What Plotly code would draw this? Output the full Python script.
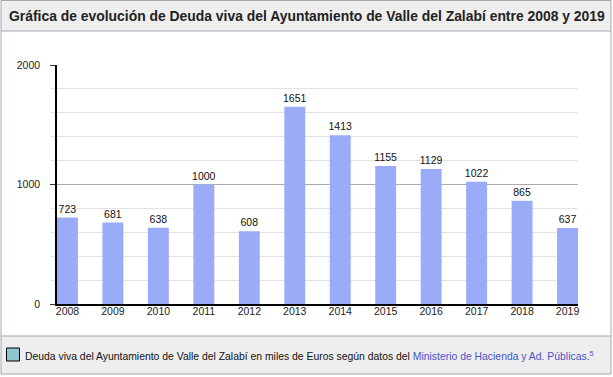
import plotly.graph_objects as go

years = ["2008", "2009", "2010", "2011", "2012", "2013", "2014", "2015", "2016", "2017", "2018", "2019"]
deuda = [723, 681, 638, 1000, 608, 1651, 1413, 1155, 1129, 1022, 865, 637]

title_text = "Gráfica de evolución de Deuda viva del Ayuntamiento de Valle del Zalabí entre 2008 y 2019"
legend_text = "Deuda viva del Ayuntamiento de Valle del Zalabí en miles de Euros según datos del "
link_text = "Ministerio de Hacienda y Ad. Públicas."

W, H = 613, 377
L, R, T, B = 57, 35, 65, 73
pw, ph = W - L - R, H - T - B

def px(x):
    return (x - L) / pw

def py(y):
    return (H - B - y) / ph

FONT = "Liberation Sans, Arial, sans-serif"

fig = go.Figure()
fig.add_trace(go.Bar(
    x=years, y=deuda, width=0.46,
    marker=dict(color="#9aabf8", line=dict(width=0)),
    text=[str(v) for v in deuda], textposition="outside",
    constraintext="none",
    textfont=dict(size=10.5, color="#111", family=FONT),
    cliponaxis=False,
))

shapes = [
    dict(type="rect", xref="paper", yref="paper", x0=px(1), x1=px(611), y0=py(31), y1=py(0.5),
         fillcolor="#eeeeee", line=dict(width=0), layer="below"),
    dict(type="line", xref="paper", yref="paper", x0=px(1), x1=px(611), y0=py(31), y1=py(31),
         line=dict(color="#a2a9b1", width=1)),
    dict(type="rect", xref="paper", yref="paper", x0=px(1), x1=px(611), y0=py(374), y1=py(336),
         fillcolor="#eeeeee", line=dict(width=0), layer="below"),
    dict(type="line", xref="paper", yref="paper", x0=px(1), x1=px(611), y0=py(336), y1=py(336),
         line=dict(color="#a2a9b1", width=1)),
    dict(type="rect", xref="paper", yref="paper", x0=px(1), x1=px(611), y0=py(374), y1=py(0.5),
         line=dict(color="#a2a9b1", width=1), fillcolor="rgba(0,0,0,0)"),
    dict(type="rect", xref="paper", yref="paper", x0=px(6.5), x1=px(19.5), y0=py(361), y1=py(348),
         fillcolor="#8fc7d1", line=dict(color="#000", width=1)),
]

annotations = [
    dict(text="<b>" + title_text + "</b>", xref="paper", yref="paper", x=px(7), y=py(16),
         xanchor="left", yanchor="middle", showarrow=False,
         font=dict(size=13.9, color="#222", family=FONT)),
    dict(text=legend_text + "<span style='color:#4a52c8'>" + link_text + "</span><span style='color:#4a52c8'><sup>5</sup></span>",
         xref="paper", yref="paper", x=px(23), y=py(355),
         xanchor="left", yanchor="middle", showarrow=False,
         font=dict(size=10.4, color="#111", family=FONT)),
]

fig.update_layout(
    width=W, height=H,
    margin=dict(l=L, r=R, t=T, b=B, pad=0),
    paper_bgcolor="white", plot_bgcolor="white",
    showlegend=False,
    shapes=shapes,
    annotations=annotations,
    font=dict(family=FONT, size=10.5, color="#222"),
    xaxis=dict(
        type="category", range=[-0.23, 11.23],
        showline=True, linecolor="#000", linewidth=1.5,
        ticks="", showgrid=False, zeroline=False,
        tickfont=dict(size=10.5, color="#222", family=FONT),
        ticklabelstandoff=-3,
    ),
    yaxis=dict(
        range=[0, 2000], tickvals=[0, 1000, 2000], ticktext=["0", "1000", "2000"],
        showline=True, linecolor="#000", linewidth=1.5,
        ticks="outside", ticklen=5, tickcolor="#333",
        showgrid=True, gridcolor="#aaaaaa", gridwidth=1,
        zeroline=False,
        minor=dict(dtick=200, showgrid=True, gridcolor="#e2e2e2", gridwidth=1,
                   ticks="outside", ticklen=4, tickcolor="#e0e0e0"),
        tickfont=dict(size=10.5, color="#222", family=FONT),
        ticklabelstandoff=8,
    ),
)

fig.write_html("out.html", config={"displayModeBar": False},
               post_script="document.body.style.margin='0';document.body.style.padding='0';")
